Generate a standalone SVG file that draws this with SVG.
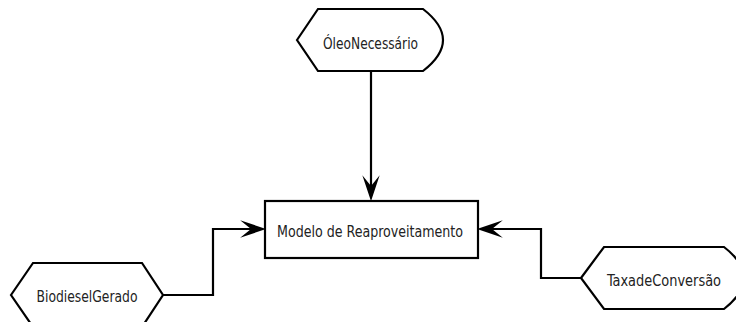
<svg xmlns="http://www.w3.org/2000/svg" width="736" height="322" viewBox="0 0 736 322">
<style>
.shape{fill:#ffffff;stroke:#000000;stroke-width:2.2;stroke-linejoin:miter}
.conn{fill:none;stroke:#000000;stroke-width:2.2}
.lbl{font-family:"DejaVu Sans Condensed","DejaVu Sans",sans-serif;font-stretch:condensed;font-size:16px;fill:#222222;text-anchor:middle}
</style>
<defs>
<marker id="arr" markerUnits="userSpaceOnUse" markerWidth="26" markerHeight="18" viewBox="0 0 24 16" refX="10" refY="8" orient="auto">
<path d="M24,8 L0,0 L10,8 L0,16 Z" fill="#000000"/>
</marker>
</defs>
<rect width="736" height="322" fill="#ffffff"/>
<g id="connectors">
<path class="conn" d="M371,71 L371,186" marker-end="url(#arr)"/>
<path class="conn" d="M163,295 L213,295 L213,229 L251,229" marker-end="url(#arr)"/>
<path class="conn" d="M581,278 L541,278 L541,229 L492,229" marker-end="url(#arr)"/>
</g>
<g id="modelo">
<rect class="shape" x="265" y="201" width="213" height="57"/>
<text class="lbl" x="370" y="237" textLength="186" lengthAdjust="spacingAndGlyphs">Modelo de Reaproveitamento</text>
</g>
<g id="oleo">
<path class="shape" d="M297,40 L318,9 L423,9 Q463,40 423,71 L318,71 Z"/>
<text class="lbl" x="370.5" y="48.5" textLength="95" lengthAdjust="spacingAndGlyphs">ÓleoNecessário</text>
</g>
<g id="biodiesel">
<path class="shape" d="M11,295 L33,263 L142,263 L163,295 L142,327 L33,327 Z"/>
<text class="lbl" x="87" y="302" textLength="101" lengthAdjust="spacingAndGlyphs">BiodieselGerado</text>
</g>
<g id="taxa">
<path class="shape" d="M581,278 L604,247 L724,247 Q764,278 724,309 L604,309 Z"/>
<text class="lbl" x="664" y="286" textLength="114" lengthAdjust="spacingAndGlyphs">TaxadeConversão</text>
</g>
</svg>
